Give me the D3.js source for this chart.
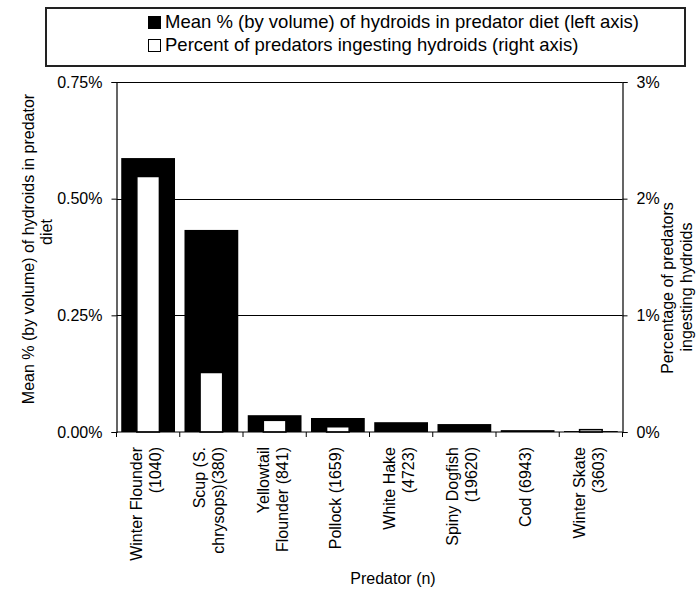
<!DOCTYPE html>
<html>
<head>
<meta charset="utf-8">
<script src="https://cdn.jsdelivr.net/npm/d3@7"></script>
<style>
  body { margin: 0; background: #fff; }
  text { font-family: "Liberation Sans", Arial, sans-serif; fill: #000; }
</style>
</head>
<body>
<div id="chart"></div>
<script>
// predator names, split in lines as on the x axis
const predators = [
  ["Winter Flounder", "(1040)"],
  ["Scup (S.", "chrysops)(380)"],
  ["Yellowtail", "Flounder (841)"],
  ["Pollock (1659)"],
  ["White Hake", "(4723)"],
  ["Spiny Dogfish", "(19620)"],
  ["Cod (6943)"],
  ["Winter Skate", "(3603)"]
];
// mean % by volume in diet (left axis, percent)
const meanVolume = [0.587, 0.433, 0.036, 0.030, 0.021, 0.017, 0.004, 0.002];
// percent of predators ingesting hydroids (right axis, percent)
const pctIngesting = [2.19, 0.51, 0.10, 0.045, 0, 0, 0, 0.02];

const leftTicks = [0, 0.25, 0.5, 0.75];
const rightTicks = [0, 1, 2, 3];

const legendLabels = [
  "Mean % (by volume) of hydroids in predator diet (left axis)",
  "Percent of predators ingesting hydroids (right axis)"
];

const W = 699, H = 589;
const margin = {top: 82, right: 76.5, bottom: 157, left: 116.5};
const width = W - margin.left - margin.right,
      height = H - margin.top - margin.bottom;

const svg = d3.select("#chart").append("svg")
    .attr("width", W)
    .attr("height", H);

const g = svg.append("g")
    .attr("transform", `translate(${margin.left},${margin.top})`);

const ids = predators.map((d, i) => i);

const x = d3.scaleBand()
    .domain(ids)
    .range([0, width])
    .paddingInner(0.15)
    .paddingOuter(0.075);

const step = x.step();

const yL = d3.scaleLinear().domain([0, 0.75]).range([height, 0]);
const yR = d3.scaleLinear().domain([0, 3]).range([height, 0]);

// gridlines
g.append("g")
  .selectAll("line")
  .data(leftTicks.filter(d => d > 0))
  .join("line")
    .attr("x1", 0).attr("x2", width)
    .attr("y1", d => Math.round(yL(d)) + 0.5)
    .attr("y2", d => Math.round(yL(d)) + 0.5)
    .attr("stroke", "#000")
    .attr("stroke-width", 1.2);

// black bars (left axis)
g.append("g")
  .selectAll("rect")
  .data(meanVolume)
  .join("rect")
    .attr("x", (d, i) => x(i))
    .attr("width", x.bandwidth())
    .attr("y", d => yL(d))
    .attr("height", d => height - yL(d))
    .attr("fill", "#000");

// white bars (right axis)
const wbw = x.bandwidth() * 0.42;
g.append("g")
  .selectAll("rect")
  .data(pctIngesting.map((v, i) => ({v, i})).filter(d => d.v > 0))
  .join("rect")
    .attr("x", d => x(d.i) + x.bandwidth() / 2 - wbw / 2)
    .attr("width", wbw)
    .attr("y", d => yR(d.v))
    .attr("height", d => height - yR(d.v))
    .attr("fill", "#fff")
    .attr("stroke", "#000")
    .attr("stroke-width", 1.5);

// left axis
const axL = g.append("g")
    .call(d3.axisLeft(yL).tickValues(leftTicks)
      .tickFormat(d => d.toFixed(2) + "%").tickSize(5).tickPadding(9));

// right axis
const axR = g.append("g")
    .attr("transform", `translate(${width},0)`)
    .call(d3.axisRight(yR).tickValues(rightTicks)
      .tickFormat(d => d + "%").tickSize(5).tickPadding(9));

// bottom axis: ticks at band boundaries
const axB = g.append("g")
    .attr("transform", `translate(0,${height})`);
axB.append("line")
    .attr("x1", 0).attr("x2", width)
    .attr("stroke", "#000").attr("stroke-width", 1.2);
axB.selectAll(".tk")
  .data(d3.range(predators.length + 1))
  .join("line")
    .attr("class", "tk")
    .attr("x1", d => d * step).attr("x2", d => d * step)
    .attr("y1", 0).attr("y2", 5)
    .attr("stroke", "#000");

[axL, axR].forEach(a => {
  a.select(".domain").attr("stroke", "#000").attr("stroke-width", 1.2);
  a.selectAll(".tick line").attr("stroke", "#000");
  a.selectAll(".tick text").attr("font-size", 16)
    .attr("font-family", "Liberation Sans, Arial, sans-serif");
});

// x labels, rotated
const lh = 19;
const xl = g.append("g")
  .selectAll("text")
  .data(predators)
  .join("text")
    .attr("transform", (d, i) =>
      `translate(${x(i) + x.bandwidth() / 2 - 2},${height + 15}) rotate(-90)`)
    .attr("text-anchor", "end")
    .attr("font-size", 16);
xl.selectAll("tspan")
  .data(d => d.map((t, j) => ({t, j, n: d.length})))
  .join("tspan")
    .attr("x", 0)
    .attr("y", d => (d.j - (d.n - 1) / 2) * lh)
    .attr("dy", "0.35em")
    .text(d => d.t);

// axis titles
svg.append("text")
    .attr("x", 393).attr("y", 584)
    .attr("text-anchor", "middle")
    .attr("font-size", 16)
    .text("Predator (n)");

const lt = svg.append("text")
    .attr("transform", "rotate(-90)")
    .attr("text-anchor", "middle")
    .attr("font-size", 16);
lt.append("tspan").attr("x", -249).attr("y", 34).text("Mean % (by volume) of hydroids in predator");
lt.append("tspan").attr("x", -232).attr("y", 52).text("diet");

const rt = svg.append("text")
    .attr("transform", "rotate(-90)")
    .attr("text-anchor", "middle")
    .attr("font-size", 16);
rt.append("tspan").attr("x", -288).attr("y", 673).text("Percentage of predators");
rt.append("tspan").attr("x", -287).attr("y", 692).text("ingesting hydroids");

// legend
const leg = svg.append("g");
leg.append("rect")
    .attr("x", 46).attr("y", 8)
    .attr("width", 639).attr("height", 58)
    .attr("fill", "#fff")
    .attr("stroke", "#222")
    .attr("stroke-width", 2);
const li = leg.selectAll("g.item")
  .data(legendLabels)
  .join("g")
    .attr("class", "item")
    .attr("transform", (d, i) => `translate(148,${22 + i * 23})`);
li.append("rect")
    .attr("x", 0.5).attr("y", -5.5)
    .attr("width", 12).attr("height", 12)
    .attr("fill", (d, i) => i === 0 ? "#000" : "#fff")
    .attr("stroke", "#000");
li.append("text")
    .attr("x", 17).attr("dy", "0.35em")
    .attr("font-size", 18.5)
    .text(d => d);
</script>
</body>
</html>
